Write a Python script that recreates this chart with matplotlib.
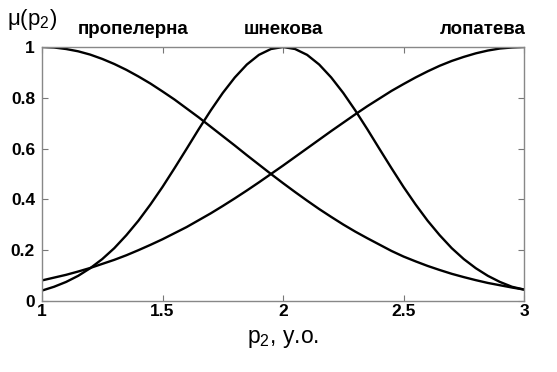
import numpy as np
import matplotlib
matplotlib.use('Agg')
import matplotlib.pyplot as plt

p2 = np.linspace(1.0, 3.0, 41)
propelerna = [1.000, 0.998, 0.992, 0.983, 0.970, 0.953, 0.933, 0.910, 0.884, 0.856,
              0.825, 0.793, 0.758, 0.723, 0.686, 0.649, 0.612, 0.574, 0.537, 0.500,
              0.464, 0.429, 0.395, 0.362, 0.331, 0.301, 0.273, 0.247, 0.222, 0.197,
              0.175, 0.156, 0.138, 0.122, 0.107, 0.094, 0.082, 0.071, 0.062, 0.053,
              0.045]
shnekova = [0.041, 0.056, 0.075, 0.099, 0.129, 0.165, 0.208, 0.259, 0.316, 0.380,
            0.449, 0.523, 0.599, 0.676, 0.750, 0.819, 0.880, 0.931, 0.969, 0.992,
            1.000, 0.992, 0.969, 0.931, 0.880, 0.819, 0.750, 0.676, 0.599, 0.523,
            0.449, 0.380, 0.316, 0.259, 0.208, 0.165, 0.129, 0.099, 0.075, 0.056,
            0.045]
lopateva = [0.081, 0.092, 0.103, 0.116, 0.130, 0.146, 0.162, 0.180, 0.200, 0.221,
            0.243, 0.267, 0.291, 0.318, 0.345, 0.374, 0.404, 0.435, 0.467, 0.500,
            0.533, 0.567, 0.601, 0.635, 0.669, 0.702, 0.735, 0.767, 0.797, 0.827,
            0.854, 0.880, 0.904, 0.926, 0.945, 0.961, 0.975, 0.986, 0.994, 0.998,
            1.000]

curve_names = ['пропелерна', 'шнекова', 'лопатева']
name_x = [1.38, 2.0, 2.83]

x_ticks = [1, 1.5, 2, 2.5, 3]
x_tick_labels = ['1', '1.5', '2', '2.5', '3']
y_ticks = [0, 0.2, 0.4, 0.6, 0.8, 1]
y_tick_labels = ['0', '0.2', '0.4', '0.6', '0.8', '1']

plt.rcParams['font.family'] = ['Liberation Sans', 'DejaVu Sans']

fig = plt.figure(figsize=(5.57, 3.72), dpi=100)
ax = fig.add_axes([0.0754, 0.1909, 0.8654, 0.6828])

for ys in (propelerna, shnekova, lopateva):
    ax.plot(p2, ys, color='black', lw=1.7)

ax.set_xlim(1, 3)
ax.set_ylim(0, 1)
ax.set_xticks(x_ticks)
ax.set_xticklabels(x_tick_labels, fontsize=12.5, fontweight='bold')
ax.set_yticks(y_ticks)
ax.set_yticklabels(y_tick_labels, fontsize=12.5, fontweight='bold')
ax.tick_params(direction='in', length=4, width=0.8, color='#777777',
               top=True, right=True)
ax.tick_params(axis='x', pad=2)
ax.tick_params(axis='y', pad=5)
for s in ax.spines.values():
    s.set_color('#888888')
    s.set_linewidth(1.0)

for name, xn in zip(curve_names, name_x):
    ax.text(xn, 1.07, name, fontsize=13.5, fontweight='bold', ha='center', va='center',
            transform=ax.get_xaxis_transform())

fig.text(0.058, 0.948, r'$\mathregular{\mu(p_2)}$', fontsize=16, ha='center', va='center')
ax.set_xlabel(r'$\mathregular{p_2}$, у.о.', fontsize=16.5, labelpad=6)

fig.savefig('out.png', dpi=100)
